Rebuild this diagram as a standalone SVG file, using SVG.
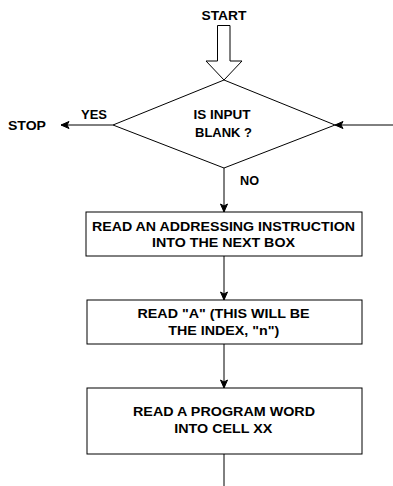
<svg xmlns="http://www.w3.org/2000/svg" width="393" height="486" viewBox="0 0 393 486">
<style>
text{font-family:"Liberation Sans",Arial,sans-serif;font-weight:bold;font-size:12px;fill:#000;text-anchor:middle}
.s{fill:#fff;stroke:#000;stroke-width:1}
.c{fill:none;stroke:#000;stroke-width:1}
</style>
<defs>
<marker id="ah" markerWidth="10" markerHeight="10" refX="9" refY="5" orient="auto" markerUnits="userSpaceOnUse">
<path d="M1,1.5 L9,5 L1,8.5 L3,5 Z" fill="#000" stroke="#000" stroke-width="1"/>
</marker>
</defs>
<g id="start">
<text x="224" y="20" textLength="45" lengthAdjust="spacingAndGlyphs">START</text>
<polygon class="s" points="217.5,25.5 230,25.5 230,61 242,61 224,80 206,61 217.5,61"/>
</g>
<g id="decision">
<polygon class="s" points="224,80 335,125 224,168 113,125"/>
<text x="222" y="119" textLength="57" lengthAdjust="spacingAndGlyphs">IS INPUT</text>
<text x="223.5" y="137" textLength="57" lengthAdjust="spacingAndGlyphs">BLANK ?</text>
</g>
<g id="stop"><text x="27" y="129.5" textLength="38" lengthAdjust="spacingAndGlyphs">STOP</text></g>
<g id="box1">
<rect class="s" x="86" y="212" width="276" height="44"/>
<text x="223.5" y="230.7" textLength="263" lengthAdjust="spacingAndGlyphs">READ AN ADDRESSING INSTRUCTION</text>
<text x="223.5" y="247" textLength="143" lengthAdjust="spacingAndGlyphs">INTO THE NEXT BOX</text>
</g>
<g id="box2">
<rect class="s" x="87" y="300" width="275" height="44"/>
<text x="223.5" y="318" textLength="172" lengthAdjust="spacingAndGlyphs">READ "A" (THIS WILL BE</text>
<text x="223.7" y="335" textLength="111" lengthAdjust="spacingAndGlyphs">THE INDEX, "n")</text>
</g>
<g id="box3">
<rect class="s" x="87" y="388" width="275" height="66"/>
<text x="224" y="416" textLength="182" lengthAdjust="spacingAndGlyphs">READ A PROGRAM WORD</text>
<text x="223.3" y="433" textLength="98" lengthAdjust="spacingAndGlyphs">INTO CELL XX</text>
</g>
<g id="connectors">
<line class="c" x1="113" y1="125" x2="61" y2="125" marker-end="url(#ah)"/>
<text x="94" y="119" textLength="26" lengthAdjust="spacingAndGlyphs">YES</text>
<line class="c" x1="393" y1="125" x2="335" y2="125" marker-end="url(#ah)"/>
<line class="c" x1="224" y1="168" x2="224" y2="212" marker-end="url(#ah)"/>
<text x="249.5" y="185" textLength="19" lengthAdjust="spacingAndGlyphs">NO</text>
<line class="c" x1="224" y1="256" x2="224" y2="300" marker-end="url(#ah)"/>
<line class="c" x1="224" y1="344" x2="224" y2="388" marker-end="url(#ah)"/>
<line class="c" x1="224" y1="454" x2="224" y2="486"/>
</g>
</svg>
